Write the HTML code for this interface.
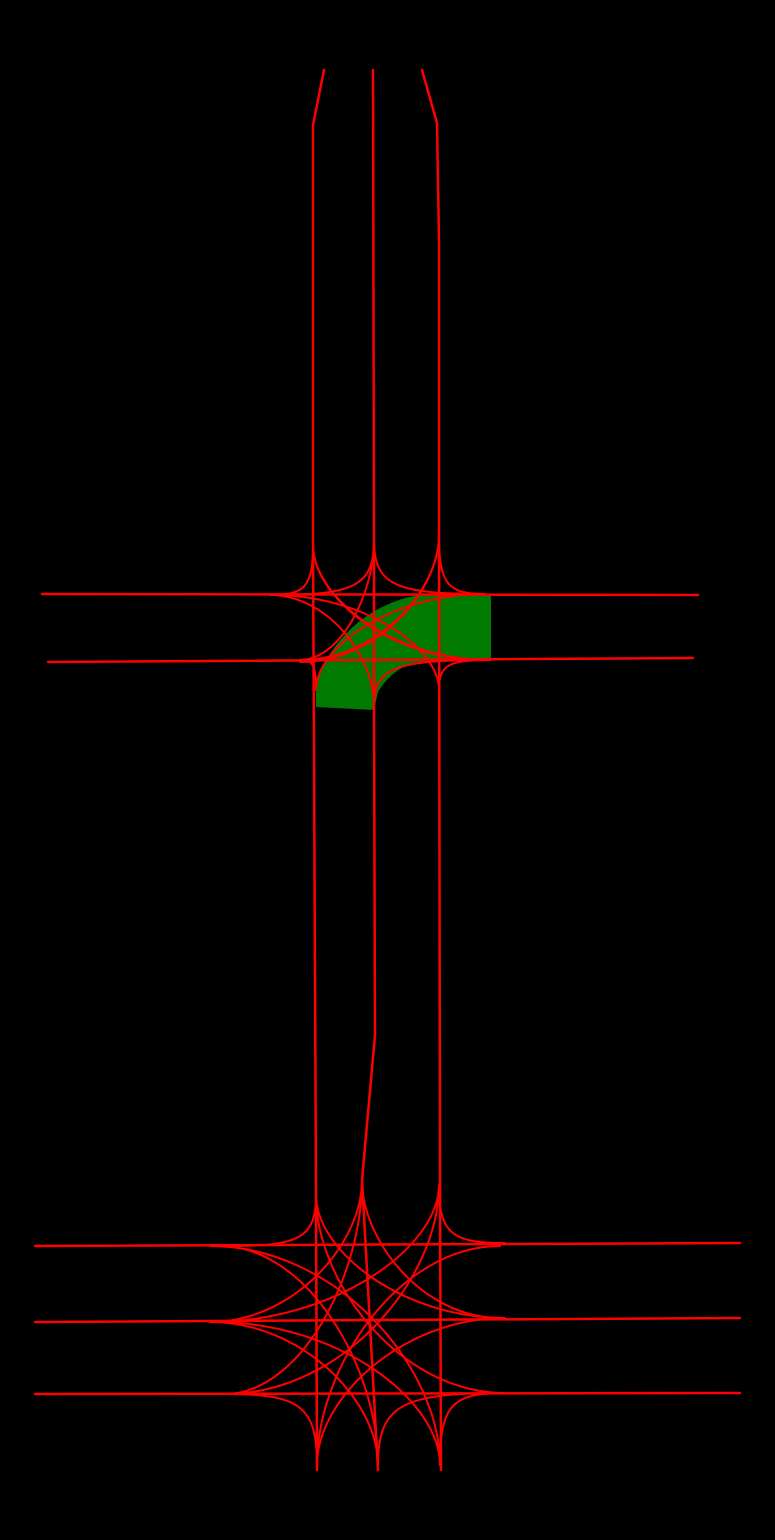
<!DOCTYPE html>
<html><head><meta charset="utf-8"><style>
html,body{margin:0;padding:0;background:#000;}
svg{display:block;}
</style></head><body>
<svg id="map" width="775" height="1540" viewBox="0 0 775 1540">
<rect width="775" height="1540" fill="#000"/>
<path fill="#007a00" d="M316,707 L374,710 L378,692 Q390,672 410,664 Q440,659 491,659 L491,594 L420,595 Q385,600 355,625 Q325,652 316,685 Z"/>
<g id="roads" stroke="#ff0000" stroke-width="2.5" fill="none" stroke-linejoin="round" stroke-linecap="round"></g>
</svg>
<script>
// Lanes (polylines): x,y pairs
const laneNames = ["lane-v-left","lane-v-middle","lane-v-right","lane-h-top-1","lane-h-top-2","lane-h-bot-1","lane-h-bot-2","lane-h-bot-3"];
const lanePoints = [
  [[324,70],[313,125],[313,540],[316,1195],[317,1470]],
  [[373,70],[374,540],[374,705],[375,1035],[362,1180],[378,1470]],
  [[422,70],[437,123],[439,240],[439,535],[440,1185],[441,1470]],
  [[42,594],[698,595]],
  [[48,662],[693,658]],
  [[35,1246],[740,1243]],
  [[35,1322],[740,1318]],
  [[35,1394],[740,1393]]
];
// Turn connectors: [spikeX, spikeY, endX, endY]
const topTurns = [
  [313,545,270,595],[313,545,485,660],[313,545,490,660],
  [374,540,300,660],[374,540,485,594],[374,540,272,595],
  [439,535,300,662],[439,535,485,594],[439,535,300,660],
  [316,690,300,660],[316,690,485,594],
  [374,705,270,595],[374,705,490,660],
  [439,690,490,660],[439,690,272,595]
];
const botTurns = [
  [316,1195,230,1246],[316,1195,505,1318],[316,1195,505,1393],
  [362,1180,210,1322],[362,1180,225,1394],[362,1180,500,1318],
  [439,1185,505,1243],[439,1185,210,1322],[439,1185,225,1394],
  [317,1465,225,1394],[317,1465,500,1246],[317,1465,505,1318],
  [378,1465,210,1322],[378,1465,505,1393],[378,1465,220,1246],
  [440,1465,505,1393],[440,1465,210,1246],[440,1465,215,1322]
];
const g = document.getElementById('roads');
const NS = 'http://www.w3.org/2000/svg';
lanePoints.forEach((pts,i)=>{
  const p = document.createElementNS(NS,'polyline');
  p.setAttribute('points', pts.map(a=>a.join(',')).join(' '));
  
  
  g.appendChild(p);
});
function turn(t){
  const [sx,sy,ex,ey]=t;
  const long = Math.abs(ey-sy) > 80;
  const a = long ? 0.45 : 0.85, b = long ? 0.45 : 0.2;
  const d=`M${sx},${sy} C${sx},${sy+a*(ey-sy)} ${sx+b*(ex-sx)},${ey} ${ex},${ey}`;
  const p=document.createElementNS(NS,'path');
  p.setAttribute('d',d);
  p.setAttribute('stroke-width','2');
  
  
  g.appendChild(p);
}
topTurns.forEach(turn);
botTurns.forEach(turn);
</script>
</body></html>
